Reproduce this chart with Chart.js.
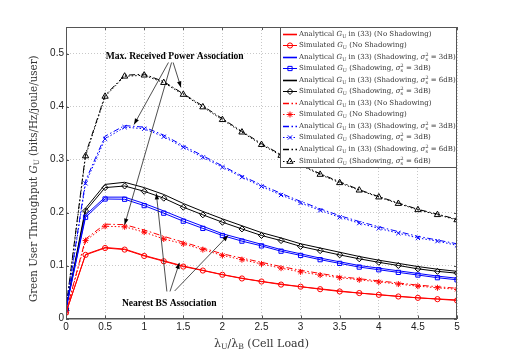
<!DOCTYPE html>
<html>
<head>
<meta charset="utf-8">
<script src="https://cdn.jsdelivr.net/npm/chart.js@4.4.0/dist/chart.umd.min.js"></script>
<style>
  html, body { margin: 0; padding: 0; background: #fff; }
  #wrap { width: 505px; height: 360px; }
</style>
</head>
<body>
<div id="wrap"><canvas id="chart" width="505" height="360"></canvas></div>
<script>
// Cell load values (x axis)
const cellLoad = [0, 0.25, 0.5, 0.75, 1, 1.25, 1.5, 1.75, 2, 2.25, 2.5, 2.75, 3, 3.25, 3.5, 3.75, 4, 4.25, 4.5, 4.75, 5];

// Nearest BS association
const anaNoShadow   = [0.011, 0.121, 0.134, 0.131, 0.119, 0.109, 0.099, 0.091, 0.083, 0.076, 0.070, 0.065, 0.060, 0.056, 0.052, 0.048, 0.045, 0.042, 0.039, 0.037, 0.035];
const simNoShadow   = [0.011, 0.120, 0.133, 0.130, 0.118, 0.108, 0.098, 0.0905, 0.0825, 0.0755, 0.0698, 0.064, 0.060, 0.0553, 0.051, 0.048, 0.0447, 0.0415, 0.039, 0.0365, 0.034];
const anaShadow3    = [0.019, 0.195, 0.229, 0.229, 0.217, 0.203, 0.188, 0.174, 0.160, 0.150, 0.140, 0.130, 0.122, 0.114, 0.107, 0.100, 0.095, 0.090, 0.085, 0.080, 0.076];
const simShadow3    = [0.018, 0.191, 0.2255, 0.225, 0.213, 0.1987, 0.1836, 0.170, 0.1566, 0.146, 0.137, 0.127, 0.119, 0.111, 0.104, 0.097, 0.092, 0.087, 0.082, 0.077, 0.073];
const anaShadow6    = [0.019, 0.208, 0.253, 0.257, 0.247, 0.234, 0.217, 0.202, 0.188, 0.175, 0.162, 0.152, 0.141, 0.133, 0.125, 0.117, 0.110, 0.104, 0.098, 0.093, 0.089];
const simShadow6    = [0.018, 0.203, 0.247, 0.250, 0.240, 0.227, 0.210, 0.1956, 0.1817, 0.169, 0.1566, 0.147, 0.136, 0.128, 0.120, 0.1126, 0.106, 0.100, 0.0937, 0.089, 0.0855];

// Max. received power association
const anaMaxNoShadow = [0.012, 0.150, 0.178, 0.177, 0.167, 0.155, 0.144, 0.133, 0.122, 0.114, 0.106, 0.098, 0.091, 0.085, 0.079, 0.075, 0.071, 0.067, 0.063, 0.060, 0.057];
const simMaxNoShadow = [0.011, 0.147, 0.174, 0.173, 0.163, 0.150, 0.141, 0.130, 0.119, 0.111, 0.103, 0.095, 0.088, 0.082, 0.077, 0.073, 0.069, 0.065, 0.061, 0.058, 0.055];
const anaMaxShadow3  = [0.019, 0.260, 0.344, 0.364, 0.361, 0.346, 0.326, 0.307, 0.288, 0.269, 0.252, 0.236, 0.221, 0.207, 0.194, 0.183, 0.173, 0.164, 0.155, 0.148, 0.141];
const simMaxShadow3  = [0.018, 0.255, 0.339, 0.361, 0.358, 0.343, 0.323, 0.304, 0.2855, 0.2666, 0.249, 0.233, 0.218, 0.204, 0.191, 0.180, 0.170, 0.161, 0.152, 0.146, 0.138];
const anaMaxShadow6  = [0.019, 0.310, 0.421, 0.459, 0.461, 0.447, 0.424, 0.401, 0.377, 0.353, 0.330, 0.309, 0.291, 0.273, 0.258, 0.243, 0.230, 0.218, 0.206, 0.197, 0.187];
const simMaxShadow6  = [0.018, 0.3066, 0.419, 0.457, 0.459, 0.445, 0.4226, 0.399, 0.375, 0.3515, 0.328, 0.3075, 0.289, 0.2717, 0.256, 0.242, 0.229, 0.2168, 0.205, 0.1957, 0.186];

// Legend labels (_{..} subscript, ^{..} superscript, ~{..} italic)
const seriesLabels = [
  'Analytical ~{G}_{U} in (33) (No Shadowing)',
  'Simulated ~{G}_{U} (No Shadowing)',
  'Analytical ~{G}_{U} in (33) (Shadowing, ~{σ}_{s}^{2} = 3dB)',
  'Simulated ~{G}_{U} (Shadowing, ~{σ}_{s}^{2} = 3dB)',
  'Analytical ~{G}_{U} in (33) (Shadowing, ~{σ}_{s}^{2} = 6dB)',
  'Simulated ~{G}_{U} (Shadowing, ~{σ}_{s}^{2} = 3dB)',
  'Analytical ~{G}_{U} in (33) (No Shadowing)',
  'Simulated ~{G}_{U} (No Shadowing)',
  'Analytical ~{G}_{U} in (33) (Shadowing, ~{σ}_{s}^{2} = 3dB)',
  'Simulated ~{G}_{U} (Shadowing, ~{σ}_{s}^{2} = 3dB)',
  'Analytical ~{G}_{U} in (33) (Shadowing, ~{σ}_{s}^{2} = 6dB)',
  'Simulated ~{G}_{U} (Shadowing, ~{σ}_{s}^{2} = 6dB)'
];

// Annotations in data units: [fromX, fromY, toX, toY]
const maxAssocText = { x: 1.39, y: 0.495, text: 'Max. Received Power Association' };
const maxAssocArrows = [[1.31, 0.483, 0.87, 0.366], [1.35, 0.483, 0.75, 0.177], [1.37, 0.483, 1.47, 0.436]];
const nearAssocText = { x: 1.32, y: 0.029, text: 'Nearest BS Association' };
const nearAssocArrows = [[1.29, 0.051, 1.155, 0.236], [1.33, 0.051, 1.45, 0.105], [1.39, 0.052, 2.075, 0.157]];

const SOLID = [];
const DASHDOT = [6, 2.5, 1.5, 2.5];
const DOTTED = [1.5, 2];

function series(values, color, dash, style, radius) {
  return {
    data: values.map((v, i) => ({ x: cellLoad[i], y: v })),
    borderColor: color,
    borderWidth: 1,
    borderDash: dash,
    pointStyle: style || 'circle',
    pointRadius: style ? radius : 0,
    pointBorderColor: color,
    pointBackgroundColor: style === 'star' ? color : 'rgba(0,0,0,0)',
    pointBorderWidth: 1,
    tension: 0
  };
}

const datasets = [
  series(anaNoShadow, '#ff0000', SOLID),
  series(simNoShadow, '#ff0000', SOLID, 'circle', 2.6),
  series(anaShadow3, '#0000ff', SOLID),
  series(simShadow3, '#0000ff', SOLID, 'rect', 3),
  series(anaShadow6, '#000000', SOLID),
  series(simShadow6, '#000000', SOLID, 'rectRot', 3),
  series(anaMaxNoShadow, '#ff0000', DASHDOT),
  series(simMaxNoShadow, '#ff0000', DOTTED, 'star', 3),
  series(anaMaxShadow3, '#0000ff', DASHDOT),
  series(simMaxShadow3, '#0000ff', DOTTED, 'crossRot', 3),
  series(anaMaxShadow6, '#000000', DASHDOT),
  series(simMaxShadow6, '#000000', DOTTED, 'triangle', 3.6)
];
datasets.forEach((d, i) => { d.label = seriesLabels[i]; });

// Rich text helpers
function richParts(str) {
  const parts = [];
  const re = /([_^~])\{([^}]*)\}/g;
  let last = 0, m;
  while ((m = re.exec(str))) {
    if (m.index > last) parts.push({ t: str.slice(last, m.index), mode: 'n' });
    parts.push({ t: m[2], mode: m[1] === '_' ? 'sub' : m[1] === '^' ? 'sup' : 'it' });
    last = re.lastIndex;
  }
  if (last < str.length) parts.push({ t: str.slice(last), mode: 'n' });
  return parts;
}

function drawRich(ctx, str, x, y, size, family, align) {
  const parts = richParts(str);
  const small = size * 0.7;
  let cursor = 0, prev = null;
  parts.forEach(p => {
    const sz = (p.mode === 'sub' || p.mode === 'sup') ? small : size;
    p.font = (p.mode === 'it' ? 'italic ' : '') + sz + 'px ' + family;
    ctx.font = p.font;
    p.w = ctx.measureText(p.t).width;
    if (p.mode === 'sup' && prev && prev.mode === 'sub') {
      p.x = prev.x;
      cursor = prev.x + Math.max(prev.w, p.w);
    } else {
      p.x = cursor;
      cursor += p.w;
    }
    p.dy = p.mode === 'sub' ? size * 0.3 : p.mode === 'sup' ? -size * 0.38 : 0;
    prev = p;
  });
  const start = align === 'center' ? x - cursor / 2 : x;
  ctx.textAlign = 'left';
  ctx.textBaseline = 'middle';
  parts.forEach(p => {
    ctx.font = p.font;
    ctx.fillText(p.t, start + p.x, y + p.dy);
  });
}

function arrow(ctx, x1, y1, x2, y2) {
  ctx.beginPath();
  ctx.moveTo(x1, y1);
  ctx.lineTo(x2, y2);
  ctx.stroke();
  const a = Math.atan2(y2 - y1, x2 - x1), L = 6, W = 2.2;
  ctx.beginPath();
  ctx.moveTo(x2, y2);
  ctx.lineTo(x2 - L * Math.cos(a) + W * Math.sin(a), y2 - L * Math.sin(a) - W * Math.cos(a));
  ctx.lineTo(x2 - L * Math.cos(a) - W * Math.sin(a), y2 - L * Math.sin(a) + W * Math.cos(a));
  ctx.closePath();
  ctx.fill();
}

// Box, inner ticks, titles, annotations and legend
const decorations = {
  id: 'decorations',
  afterDatasetsDraw(chart) {
    const ctx = chart.ctx;
    const { left, right, top, bottom } = chart.chartArea;
    const xs = chart.scales.x, ys = chart.scales.y;
    ctx.save();

    // frame + inward ticks
    ctx.strokeStyle = '#555';
    ctx.lineWidth = 1;
    ctx.setLineDash([]);
    ctx.strokeRect(left + 0.5, top + 0.5, right - left - 1, bottom - top);
    ctx.beginPath();
    xs.ticks.forEach(t => {
      const px = Math.round(xs.getPixelForValue(t.value)) + 0.5;
      ctx.moveTo(px, bottom); ctx.lineTo(px, bottom - 3);
      ctx.moveTo(px, top); ctx.lineTo(px, top + 3);
    });
    ys.ticks.forEach(t => {
      const py = Math.round(ys.getPixelForValue(t.value)) + 0.5;
      ctx.moveTo(left, py); ctx.lineTo(left + 3, py);
      ctx.moveTo(right, py); ctx.lineTo(right - 3, py);
    });
    ctx.stroke();

    // annotations
    ctx.fillStyle = '#000';
    ctx.strokeStyle = '#222';
    ctx.lineWidth = 0.8;
    [maxAssocArrows, nearAssocArrows].forEach(list => list.forEach(a => {
      arrow(ctx, xs.getPixelForValue(a[0]), ys.getPixelForValue(a[1]), xs.getPixelForValue(a[2]), ys.getPixelForValue(a[3]));
    }));
    ctx.font = 'bold 9.6px "Liberation Serif"';
    ctx.textAlign = 'center';
    ctx.textBaseline = 'middle';
    [maxAssocText, nearAssocText].forEach(a => {
      ctx.fillText(a.text, xs.getPixelForValue(a.x), ys.getPixelForValue(a.y));
    });

    // axis titles
    ctx.fillStyle = '#333';
    drawRich(ctx, 'λ_{U}/λ_{B} (Cell Load)', (left + right) / 2, 344, 11, '"DejaVu Serif"', 'center');
    ctx.save();
    ctx.translate(34, (top + bottom) / 2 + 6);
    ctx.rotate(-Math.PI / 2);
    drawRich(ctx, 'Green User Throughput ~{G}_{U} (bits/Hz/joule/user)', 0, 0, 10.3, '"DejaVu Serif"', 'center');
    ctx.restore();

    // legend
    const lw = 177, lh = 140;
    const lx = right - lw, ly = top;
    ctx.fillStyle = '#fff';
    ctx.fillRect(lx, ly, lw, lh);
    ctx.strokeStyle = '#555';
    ctx.lineWidth = 1;
    ctx.strokeRect(lx + 0.5, ly + 0.5, lw - 1, lh);
    chart.data.datasets.forEach((d, i) => {
      const ry = Math.round(ly + 6.5 + i * 11.55) + 0.5;
      ctx.strokeStyle = d.borderColor;
      ctx.lineWidth = d.pointRadius > 0 ? 1 : 1.6;
      ctx.setLineDash(d.borderDash);
      ctx.beginPath();
      ctx.moveTo(lx + 3, ry);
      ctx.lineTo(lx + 17, ry);
      ctx.stroke();
      ctx.setLineDash([]);
      ctx.lineWidth = 1;
      if (d.pointRadius > 0) {
        ctx.fillStyle = d.pointBackgroundColor;
        Chart.helpers.drawPoint(ctx, { pointStyle: d.pointStyle, radius: d.pointRadius, borderWidth: 1, rotation: 0 }, lx + 10, ry);
      }
      ctx.fillStyle = '#333';
      drawRich(ctx, d.label, lx + 19, ry, 7, '"DejaVu Serif"', 'left');
    });
    ctx.restore();
  }
};

const fmt = v => String(+Number(v).toFixed(2));

new Chart(document.getElementById('chart'), {
  type: 'line',
  data: { datasets: datasets },
  options: {
    responsive: false,
    animation: false,
    devicePixelRatio: 1,
    layout: { padding: { top: 27, right: 48, left: 0, bottom: 0 } },
    plugins: { legend: { display: false }, tooltip: { enabled: false } },
    scales: {
      x: {
        type: 'linear', min: 0, max: 5,
        ticks: { stepSize: 0.5, callback: fmt, color: '#222', padding: 3, maxRotation: 0, font: { family: '"Liberation Sans"', size: 10 } },
        grid: { color: '#c8c8c8', drawTicks: false },
        border: { dash: [1, 2], color: '#555' },
        afterFit: s => { s.height = 41.5; }
      },
      y: {
        type: 'linear', min: 0, max: 0.55,
        afterBuildTicks: s => { s.ticks = s.ticks.filter(t => Math.abs(t.value * 10 - Math.round(t.value * 10)) < 1e-6); },
        ticks: { stepSize: 0.1, callback: fmt, color: '#222', padding: 2, font: { family: '"Liberation Sans"', size: 10 } },
        grid: { color: '#c8c8c8', drawTicks: false },
        border: { dash: [1, 2], color: '#555' },
        afterFit: s => { s.width = 66; }
      }
    }
  },
  plugins: [decorations]
});
</script>
</body>
</html>
